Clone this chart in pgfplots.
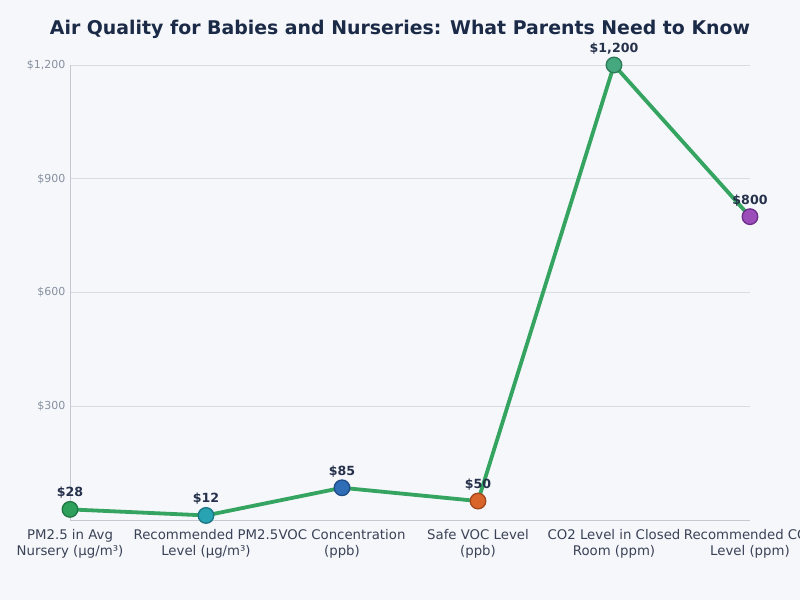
\documentclass[border=0pt]{standalone}
\usepackage{pgfplots}
\pgfplotsset{compat=1.18}
\usepackage{fontspec}
\setmainfont{DejaVu Sans}

\definecolor{bg}{HTML}{F5F7FB}
\definecolor{titlec}{HTML}{1B2A47}
\definecolor{tickc}{HTML}{8790A0}
\definecolor{xlabc}{HTML}{3A4256}
\definecolor{gridc}{HTML}{D8DCE3}
\definecolor{axisc}{HTML}{C4C9D2}
\definecolor{linec}{HTML}{34A460}
\definecolor{labc}{HTML}{25304A}
\definecolor{ca}{HTML}{2FA05C}\definecolor{cad}{HTML}{1F7642}
\definecolor{cb}{HTML}{27A3B1}\definecolor{cbd}{HTML}{1A7683}
\definecolor{cc}{HTML}{2F6DB6}\definecolor{ccd}{HTML}{1F4C86}
\definecolor{cd}{HTML}{D9652B}\definecolor{cdd}{HTML}{A2481B}
\definecolor{ce}{HTML}{46A87E}\definecolor{ced}{HTML}{2B7A58}
\definecolor{cf}{HTML}{9B4DBA}\definecolor{cfd}{HTML}{6D2E8A}

\pgfplotstableread{
x y cls
0 28 a
1 12 b
2 85 c
3 50 d
4 1200 e
5 800 f
}\airdata

\begin{document}
\begin{tikzpicture}
% fixed 800 x 600 canvas around the plot area
\path[use as bounding box, fill=bg] (-70bp,-80bp) rectangle (730bp,520bp);
\begin{axis}[
  at={(0,0)}, anchor=south west,
  scale only axis,
  width=680bp, height=455bp,
  xmin=0, xmax=5, ymin=0, ymax=1200,
  clip=false,
  axis background/.style={fill=bg},
  axis x line*=bottom, axis y line*=left,
  axis line style={draw=axisc, line width=0.8pt},
  x axis line style={-}, y axis line style={-},
  ymajorgrids, grid style={draw=gridc, line width=0.6pt},
  major tick length=0pt,
  xtick={0,1,2,3,4,5},
  xticklabels={
    {PM2.5 in Avg\\Nursery (µg/m³)},
    {Recommended PM2.5\\Level (µg/m³)},
    {VOC Concentration\\(ppb)},
    {Safe VOC Level\\(ppb)},
    {CO2 Level in Closed\\Room (ppm)},
    {Recommended CO2\\Level (ppm)}},
  xticklabel style={align=center, font=\fontsize{13.3bp}{15.5bp}\selectfont, text=xlabc, yshift=-6bp},
  ytick={300,600,900,1200},
  yticklabels={\$300,\$600,\$900,{\$1,200}},
  yticklabel style={font=\fontsize{11bp}{13bp}\selectfont, text=tickc, xshift=-1bp},
  /pgf/number format/.cd, 1000 sep={,}, assume math mode=true,
]
% connecting line with value labels
\addplot[draw=linec, line width=3.8bp, line join=round,
  nodes near coords={\$\pgfmathprintnumber{\pgfplotspointmeta}},
  point meta=explicit,
  every node near coord/.append style={font=\fontsize{12.6bp}{14bp}\selectfont\bfseries, text=labc, yshift=5.5bp}]
  table[x=x, y=y, meta=y] {\airdata};
% coloured markers for each measurement
\addplot[scatter, only marks, mark=*, mark size=7.8bp,
  scatter src=explicit symbolic,
  scatter/classes={
    a={mark=*, fill=ca, draw=cad, line width=1.3bp},
    b={mark=*, fill=cb, draw=cbd, line width=1.3bp},
    c={mark=*, fill=cc, draw=ccd, line width=1.3bp},
    d={mark=*, fill=cd, draw=cdd, line width=1.3bp},
    e={mark=*, fill=ce, draw=ced, line width=1.3bp},
    f={mark=*, fill=cf, draw=cfd, line width=1.3bp}}]
  table[x=x, y=y, meta=cls] {\airdata};
\end{axis}
\node[font=\fontsize{18.9bp}{22bp}\selectfont\bfseries, text=titlec] at (330bp,491bp)
  {Air Quality for Babies and Nurseries: What Parents Need to Know};
\end{tikzpicture}
\end{document}
